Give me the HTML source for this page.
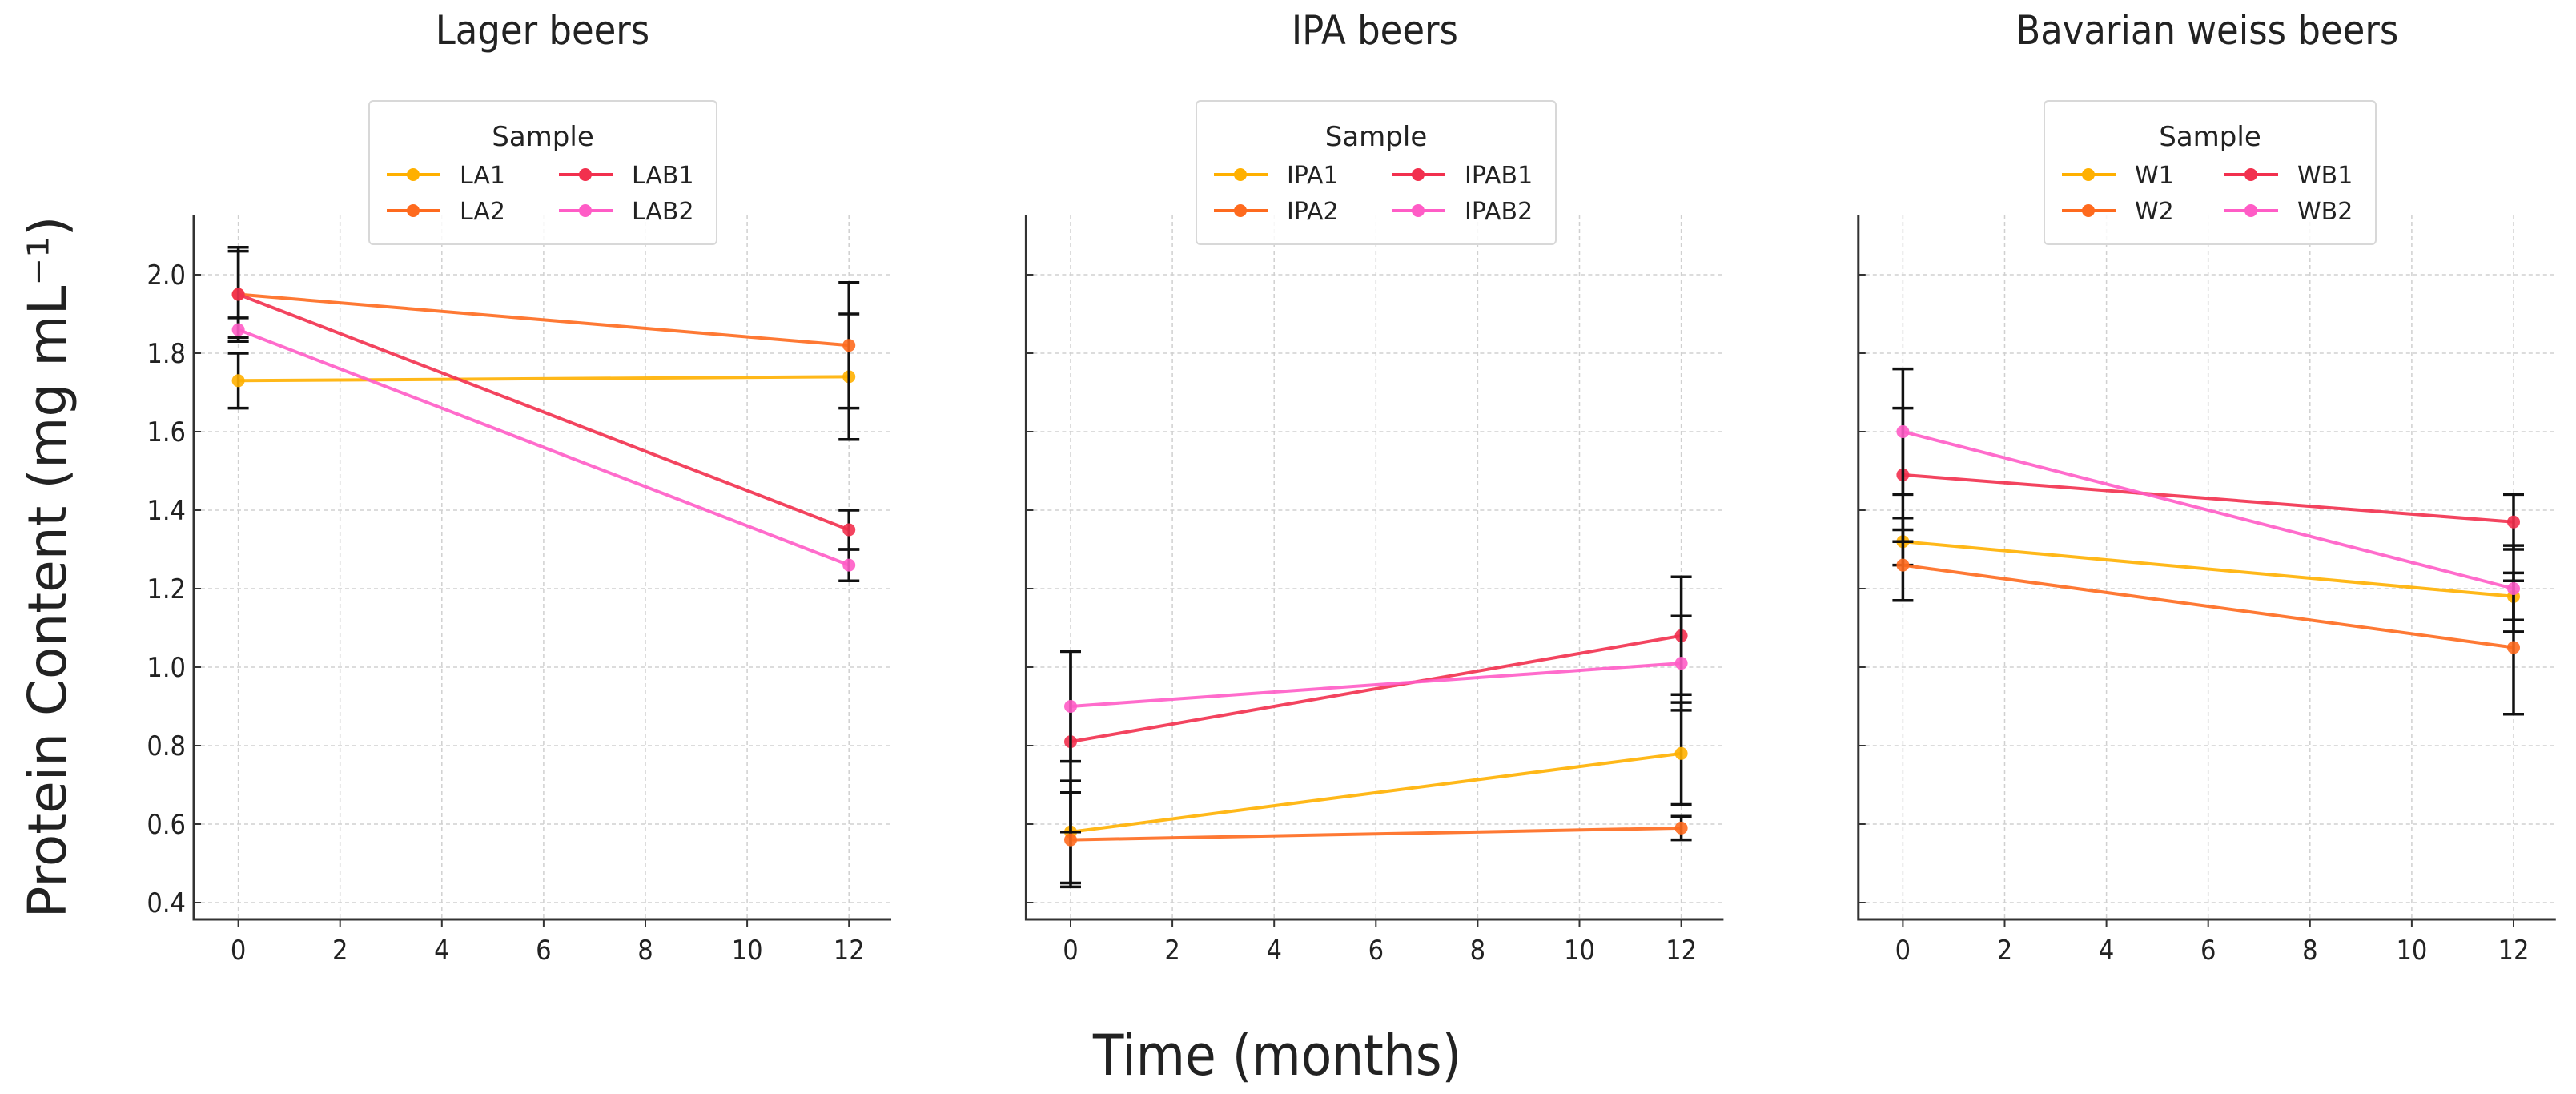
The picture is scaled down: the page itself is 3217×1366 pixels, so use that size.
<!DOCTYPE html>
<html><head><meta charset="utf-8"><style>
html,body{margin:0;padding:0;background:#fff;}
svg{display:block;}
</style></head><body>
<svg id="chart" width="3217" height="1366" viewBox="0 0 3217 1366" xmlns="http://www.w3.org/2000/svg">
<rect width="3217" height="1366" fill="#fff"/>
<text transform="translate(82,708) rotate(-90)" text-anchor="middle" font-family="'DejaVu Sans', sans-serif" font-size="66" fill="#222">Protein Content (mg mL⁻¹)</text>
<text x="1595" y="1342" text-anchor="middle" font-family="'DejaVu Sans Condensed','DejaVu Sans', sans-serif" font-size="70" fill="#222">Time (months)</text>
<g id="panels"></g>
</svg>
<script>
const panelTitles = ["Lager beers", "IPA beers", "Bavarian weiss beers"];
const months = [0, 12];
const seriesNames = [
  ["LA1", "LA2", "LAB1", "LAB2"],
  ["IPA1", "IPA2", "IPAB1", "IPAB2"],
  ["W1", "W2", "WB1", "WB2"]
];
// values [panel][series][timepoint]
const lagerValues = [[1.73, 1.74], [1.95, 1.82], [1.95, 1.35], [1.86, 1.26]];
const lagerErrors = [[0.07, 0.16], [0.11, 0.16], [0.12, 0.05], [0.03, 0.04]];
const ipaValues = [[0.58, 0.78], [0.56, 0.59], [0.81, 1.08], [0.90, 1.01]];
const ipaErrors = [[0.13, 0.13], [0.12, 0.03], [0.23, 0.15], [0.14, 0.12]];
const weissValues = [[1.32, 1.18], [1.26, 1.05], [1.49, 1.37], [1.60, 1.20]];
const weissErrors = [[0.06, 0.06], [0.09, 0.17], [0.17, 0.07], [0.16, 0.11]];
const yTicks = [0.4, 0.6, 0.8, 1.0, 1.2, 1.4, 1.6, 1.8, 2.0];
const yTickLabels = ["0.4", "0.6", "0.8", "1.0", "1.2", "1.4", "1.6", "1.8", "2.0"];
const xTicks = [0, 2, 4, 6, 8, 10, 12];

const allValues = [lagerValues, ipaValues, weissValues];
const allErrors = [lagerErrors, ipaErrors, weissErrors];
const colors = ["#FFB000", "#FE6A1E", "#F2304E", "#FF5CC6"];
const NS = "http://www.w3.org/2000/svg";
const root = document.getElementById("panels");
const panelOffset = 1039.4;
const legendBoxes = [[461, 434, 237], [1494, 449, 244], [2553, 414, 225]];

function mk(tag, attrs, parent) {
  const e = document.createElementNS(NS, tag);
  for (const k in attrs) e.setAttribute(k, attrs[k]);
  parent.appendChild(e);
  return e;
}
function yScale(v) { return 343 + (2.0 - v) * 490; }

for (let p = 0; p < 3; p++) {
  const off = p * panelOffset;
  const xScale = m => 297.6 + off + m * 63.55;
  const left = 242 + off, right = 1113 + off, top = 268, bottom = 1148;
  const g = mk("g", {}, root);
  
  

  const title = mk("text", {x: (left + right) / 2, y: 55, "text-anchor": "middle", "font-family": "'DejaVu Sans Condensed','DejaVu Sans',sans-serif", "font-size": 50, fill: "#222"}, g);
  title.textContent = panelTitles[p];
  
  

  // grid
  xTicks.forEach(t => {
    const gl = mk("line", {x1: xScale(t), x2: xScale(t), y1: top, y2: bottom, stroke: "#d0d0d0", "stroke-width": 1.5, "stroke-dasharray": "5,4"}, g);
    
    
    const tk = mk("line", {x1: xScale(t), x2: xScale(t), y1: bottom, y2: bottom + 9, stroke: "#333", "stroke-width": 2}, g);
    
    
    const lb = mk("text", {x: xScale(t), y: bottom + 50, "text-anchor": "middle", "font-family": "'DejaVu Sans Condensed','DejaVu Sans',sans-serif", "font-size": 34, fill: "#222"}, g);
    lb.textContent = String(t);
    
    
  });
  yTicks.forEach((t, i) => {
    const gl = mk("line", {x1: left, x2: right, y1: yScale(t), y2: yScale(t), stroke: "#d0d0d0", "stroke-width": 1.5, "stroke-dasharray": "5,4"}, g);
    
    
    const tk = mk("line", {x1: left, x2: left + 9, y1: yScale(t), y2: yScale(t), stroke: "#333", "stroke-width": 2}, g);
    
    
    if (p === 0) {
      const lb = mk("text", {x: left - 10, y: yScale(t) + 12, "text-anchor": "end", "font-family": "'DejaVu Sans Condensed','DejaVu Sans',sans-serif", "font-size": 34, fill: "#222"}, g);
      lb.textContent = yTickLabels[i];
      
      
    }
  });
  const sp = mk("path", {d: `M${left},${top} L${left},${bottom} L${right},${bottom}`, fill: "none", stroke: "#333", "stroke-width": 3}, g);
  
  

  // series
  const vals = allValues[p], errs = allErrors[p];
  for (let s = 0; s < 4; s++) {
    const sg = mk("g", {}, g);
    
    
    const pts = months.map((m, i) => xScale(m) + "," + yScale(vals[s][i])).join(" ");
    const ln = mk("polyline", {points: pts, fill: "none", stroke: colors[s], "stroke-width": 4, opacity: 0.9}, sg);
    
    
    months.forEach((m, i) => {
      const cx = xScale(m), v = vals[s][i], e = errs[s][i];
      const y1 = yScale(v + e), y2 = yScale(v - e);
      const eb = mk("path", {d: `M${cx},${y1} L${cx},${y2} M${cx - 13},${y1} L${cx + 13},${y1} M${cx - 13},${y2} L${cx + 13},${y2}`, stroke: "#111", "stroke-width": 3.5, fill: "none"}, sg);
      
      
      const c = mk("circle", {cx: cx, cy: yScale(v), r: 8, fill: colors[s], opacity: 0.9}, sg);
      
      
    });
  }

  // legend
  const [lx, lw, c2] = legendBoxes[p];
  const lg = mk("g", {}, g);
  
  
  mk("rect", {x: lx, y: 126, width: lw, height: 179, rx: 5, fill: "#fff", "fill-opacity": 0.85, stroke: "#d8d8d8", "stroke-width": 2}, lg);
  const lt = mk("text", {x: lx + lw / 2, y: 182, "text-anchor": "middle", "font-family": "'DejaVu Sans',sans-serif", "font-size": 34, fill: "#222"}, lg);
  lt.textContent = "Sample";
  
  
  for (let s = 0; s < 4; s++) {
    const col = s < 2 ? 0 : 1, row = s % 2;
    const x0 = lx + 22 + col * (c2 - 22 + 22) - (col ? 22 : 0) + (col ? 0 : 0);
    const lxs = col ? lx + c2 : lx + 22;
    const yy = row ? 263 : 218;
    const eg = mk("g", {}, lg);
    
    
    mk("line", {x1: lxs, x2: lxs + 67, y1: yy, y2: yy, stroke: colors[s], "stroke-width": 4}, eg);
    mk("circle", {cx: lxs + 33, cy: yy, r: 8, fill: colors[s]}, eg);
    const tx = mk("text", {x: lxs + 91, y: yy + 11, "font-family": "'DejaVu Sans',sans-serif", "font-size": 30, fill: "#222"}, eg);
    tx.textContent = seriesNames[p][s];
  }
}
</script>
</body></html>
